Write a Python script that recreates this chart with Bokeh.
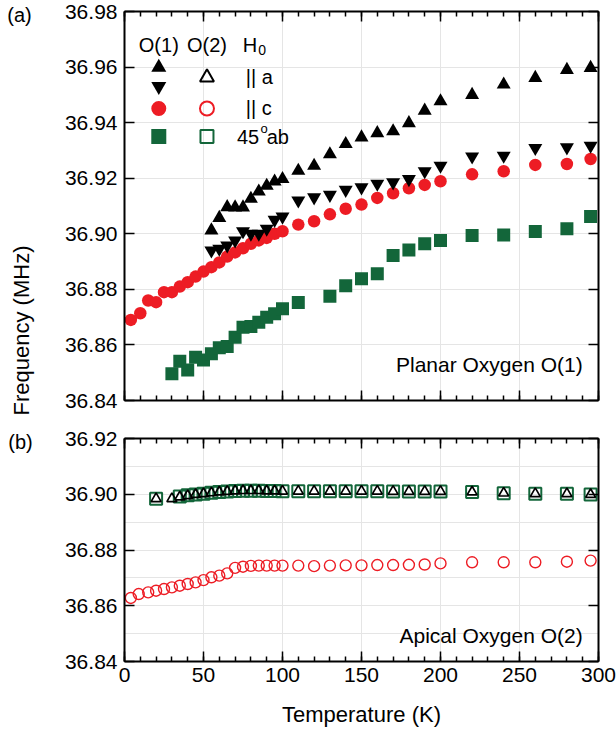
import math
from bokeh.plotting import figure
from bokeh.layouts import column, row
from bokeh.models import (Range1d, LinearAxis, FixedTicker, PrintfTickFormatter,
                          CustomJSTickFormatter, Label)
from bokeh.embed import file_html
from bokeh.resources import INLINE

FONT = "Liberation Sans"
RED = "#ed1c24"
GREEN = "#13663a"

# ---------------- data ----------------
# (a) planar oxygen O(1)
t_o1_c = [4, 10, 15, 20, 25, 30, 35, 40, 45, 50, 55, 60, 65, 70, 75, 80, 85, 90, 95, 100,
          110, 120, 130, 140, 150, 160, 170, 180, 190, 200, 220, 240, 260, 280, 295]
f_o1_c = [36.8690, 36.8714, 36.8760, 36.8754, 36.8790, 36.8790, 36.8810, 36.8826, 36.8846,
          36.8864, 36.8880, 36.8897, 36.8918, 36.8933, 36.8948, 36.8964, 36.8976, 36.8985,
          36.9000, 36.9009, 36.9033, 36.9045, 36.9070, 36.9090, 36.9105, 36.9129, 36.9146,
          36.9164, 36.9176, 36.9189, 36.9214, 36.9225, 36.9248, 36.9251, 36.9269]

t_o1_a = [55, 60, 65, 70, 75, 80, 85, 90, 95, 100, 110, 120, 130, 140, 150, 160, 170, 180,
          190, 200, 220, 240, 260, 280, 295]
f_o1_a_up = [36.9012, 36.9057, 36.9096, 36.9095, 36.9095, 36.9126, 36.9152, 36.9173, 36.9188,
             36.9197, 36.9227, 36.9245, 36.9286, 36.9323, 36.9347, 36.9362, 36.9369, 36.9398,
             36.9443, 36.9477, 36.9500, 36.9537, 36.9561, 36.9590, 36.9597]
f_o1_a_dn = [36.8940, 36.8946, 36.8958, 36.8976, 36.9009, 36.9000, 36.9000, 36.9018, 36.9050,
             36.9062, 36.9120, 36.9131, 36.9140, 36.9158, 36.9167, 36.9180, 36.9185, 36.9197,
             36.9225, 36.9245, 36.9278, 36.9281, 36.9309, 36.9311, 36.9317]

t_o1_ab = [30, 35, 40, 45, 50, 55, 60, 65, 70, 75, 80, 85, 90, 95, 100, 110, 130, 140, 150,
           160, 170, 180, 190, 200, 220, 240, 260, 280, 295]
f_o1_ab = [36.8496, 36.8541, 36.8510, 36.8556, 36.8546, 36.8568, 36.8590, 36.8594, 36.8628,
           36.8664, 36.8666, 36.8682, 36.8700, 36.8712, 36.8730, 36.8753, 36.8775, 36.8813,
           36.8838, 36.8856, 36.8922, 36.8942, 36.8964, 36.8976, 36.8994, 36.8996, 36.9008,
           36.9018, 36.9062]

# (b) apical oxygen O(2)
t_o2_c = [4, 9, 15, 20, 25, 30, 35, 40, 45, 50, 55, 60, 65, 70, 75, 80, 85, 90, 95, 100,
          110, 120, 130, 140, 150, 160, 170, 180, 190, 200, 220, 240, 260, 280, 295]
f_o2_c = [36.8628, 36.8642, 36.8648, 36.8654, 36.8660, 36.8666, 36.8672, 36.8678, 36.8684,
          36.8692, 36.8702, 36.8708, 36.8716, 36.8736, 36.8740, 36.8743, 36.8744, 36.8744,
          36.8744, 36.8744, 36.8744, 36.8742, 36.8744, 36.8745, 36.8745, 36.8746, 36.8746,
          36.8747, 36.8748, 36.8752, 36.8756, 36.8756, 36.8756, 36.8758, 36.8762]

t_o2_a = [20, 30, 35, 40, 45, 50, 55, 60, 65, 70, 75, 80, 85, 90, 95, 100, 110, 120, 130,
          140, 150, 160, 170, 180, 190, 200, 220, 240, 260, 280, 295]
f_o2_a = [36.8984, 36.8984, 36.8990, 36.8995, 36.8999, 36.9002, 36.9005, 36.9008, 36.9010,
          36.9012, 36.9013, 36.9013, 36.9013, 36.9012, 36.9012, 36.9011, 36.9011, 36.9011,
          36.9011, 36.9011, 36.9011, 36.9011, 36.9010, 36.9010, 36.9010, 36.9010, 36.9008,
          36.9004, 36.9002, 36.9002, 36.8999]

t_o2_ab = [20, 35, 40, 45, 50, 55, 60, 65, 70, 75, 80, 85, 90, 95, 100, 110, 120, 130, 140,
           150, 160, 170, 180, 190, 200, 220, 240, 260, 280, 295]
f_o2_ab = [36.8984, 36.8992, 36.8996, 36.8999, 36.9002, 36.9005, 36.9008, 36.9010, 36.9012,
           36.9013, 36.9013, 36.9013, 36.9012, 36.9012, 36.9011, 36.9011, 36.9011, 36.9011,
           36.9011, 36.9011, 36.9011, 36.9010, 36.9010, 36.9010, 36.9010, 36.9008, 36.9004,
           36.9002, 36.9002, 36.8999]

# tick values
x_major = [0, 50, 100, 150, 200, 250, 300]
x_minor = list(range(0, 301, 10))
y_major_a = [36.84, 36.86, 36.88, 36.90, 36.92, 36.94, 36.96, 36.98]
y_major_b = [36.84, 36.86, 36.88, 36.90, 36.92]


def style(ax, labels, ticks, minor):
    ax.axis_line_width = 2
    ax.axis_line_color = "black"
    ax.major_tick_in = 10
    ax.major_tick_out = 0
    ax.minor_tick_in = 5
    ax.minor_tick_out = 0
    ax.major_tick_line_width = 1.5
    ax.minor_tick_line_width = 1.5
    ax.major_tick_line_color = "black"
    ax.minor_tick_line_color = "black"
    ax.ticker = FixedTicker(ticks=ticks, minor_ticks=minor)
    if labels:
        ax.major_label_text_font = FONT
        ax.major_label_text_font_size = "21px"
        ax.major_label_text_color = "black"
    else:
        ax.formatter = CustomJSTickFormatter(code="return '';")
        ax.major_label_text_font_size = "8px"
        ax.major_label_standoff = 0


def make_fig(height, ymin, ymax, yticks, border_top, border_bottom, show_xlabels):
    p = figure(width=572, height=height, output_backend="svg", toolbar_location=None,
               x_range=Range1d(0, 300), y_range=Range1d(ymin, ymax),
               x_axis_location=None, y_axis_location=None,
               min_border_left=80, min_border_right=18,
               min_border_top=border_top, min_border_bottom=border_bottom)
    p.outline_line_color = None
    p.background_fill_color = "white"

    bottom = LinearAxis()
    style(bottom, show_xlabels, x_major, x_minor)
    if show_xlabels:
        bottom.major_label_standoff = 6
    p.add_layout(bottom, "below")

    left = LinearAxis()
    style(left, True, yticks, [])
    left.formatter = PrintfTickFormatter(format="%.2f")
    left.major_label_standoff = 7
    p.add_layout(left, "left")

    top = LinearAxis()
    style(top, False, x_major, x_minor)
    p.add_layout(top, "above")

    right = LinearAxis()
    style(right, False, yticks, [])
    p.add_layout(right, "right")
    return p, bottom


def lab(p, x, y, text, size="20px", align="left", baseline="middle", angle=0.0):
    p.add_layout(Label(x=x, y=y, text=text, text_font=FONT, text_font_size=size,
                       text_color="black", text_align=align, text_baseline=baseline,
                       angle=angle))


# ---------------- panel (a) ----------------
pa, _ = make_fig(420, 36.84, 36.98, y_major_a, 11, 20, False)

pa.scatter(t_o1_c, f_o1_c, marker="circle", size=12.5, fill_color=RED, line_color=None)
pa.scatter(t_o1_ab, f_o1_ab, marker="square", size=13, fill_color=GREEN, line_color=None)
pa.scatter(t_o1_a, f_o1_a_dn, marker="inverted_triangle", size=14, fill_color="black",
           line_color=None)
pa.scatter(t_o1_a, f_o1_a_up, marker="triangle", size=14, fill_color="black", line_color=None)

# legend (manual, two marker columns)
lx1, lx2 = 21.7, 52.2
pa.scatter([lx1], [36.9599], marker="triangle", size=15, fill_color="black", line_color=None)
pa.scatter([lx1], [36.9531], marker="inverted_triangle", size=15, fill_color="black",
           line_color=None)
pa.scatter([lx2], [36.9563], marker="triangle", size=14, fill_color=None, line_color="black",
           line_width=2)
pa.scatter([lx1], [36.9451], marker="circle", size=15, fill_color=RED, line_color=None)
pa.scatter([lx2], [36.9451], marker="circle", size=14, fill_color=None, line_color=RED,
           line_width=2)
pa.scatter([lx1], [36.9350], marker="square", size=15, fill_color=GREEN, line_color=None)
pa.scatter([lx2], [36.9350], marker="square", size=13, fill_color=None, line_color=GREEN,
           line_width=2)

lab(pa, lx1, 36.9678, "O(1)", align="center")
lab(pa, lx2, 36.9678, "O(2)", align="center")
lab(pa, 74.9, 36.9678, "H")
lab(pa, 84.6, 36.9662, "0", size="14px")
lab(pa, 76.8, 36.9563, "|| a")
lab(pa, 76.8, 36.9451, "|| c")
lab(pa, 71.2, 36.9350, "45")
lab(pa, 86.0, 36.9380, "o", size="13px")
lab(pa, 90.0, 36.9350, "ab")
lab(pa, 290, 36.8530, "Planar Oxygen O(1)", size="21px", align="right")

# ---------------- panel (b) ----------------
pb, pb_bottom = make_fig(316, 36.84, 36.92, y_major_b, 18, 75, True)
pb_bottom.axis_label = "Temperature (K)"
pb_bottom.axis_label_text_font = FONT
pb_bottom.axis_label_text_font_size = "22px"
pb_bottom.axis_label_text_font_style = "normal"
pb_bottom.axis_label_text_color = "black"
pb_bottom.axis_label_standoff = 17

pb.scatter(t_o2_c, f_o2_c, marker="circle", size=11, fill_color=None, line_color=RED,
           line_width=1.4)
pb.scatter(t_o2_ab, f_o2_ab, marker="square", size=12, fill_color=None, line_color=GREEN,
           line_width=2)
pb.scatter(t_o2_a, f_o2_a, marker="triangle", size=10, fill_color=None, line_color="black",
           line_width=1.7)

lab(pb, 290, 36.8494, "Apical Oxygen O(2)", size="21px", align="right")

# ---------------- left strip: panel tags and shared y label ----------------
ps = figure(width=44, height=736, output_backend="svg", toolbar_location=None,
            x_range=Range1d(0, 44), y_range=Range1d(736, 0),
            x_axis_location=None, y_axis_location=None,
            min_border_left=0, min_border_right=0, min_border_top=0, min_border_bottom=0)
ps.outline_line_color = None
ps.xgrid.visible = False
ps.ygrid.visible = False
lab(ps, 19, 14, "(a)", size="20px", align="center")
lab(ps, 20, 441, "(b)", size="20px", align="center")
lab(ps, 21, 330, "Frequency (MHz)", size="22px", align="center", angle=math.pi / 2)

layout = row(ps, column(pa, pb, spacing=0), spacing=0)
open("out.html", "w").write(file_html(layout, INLINE))
